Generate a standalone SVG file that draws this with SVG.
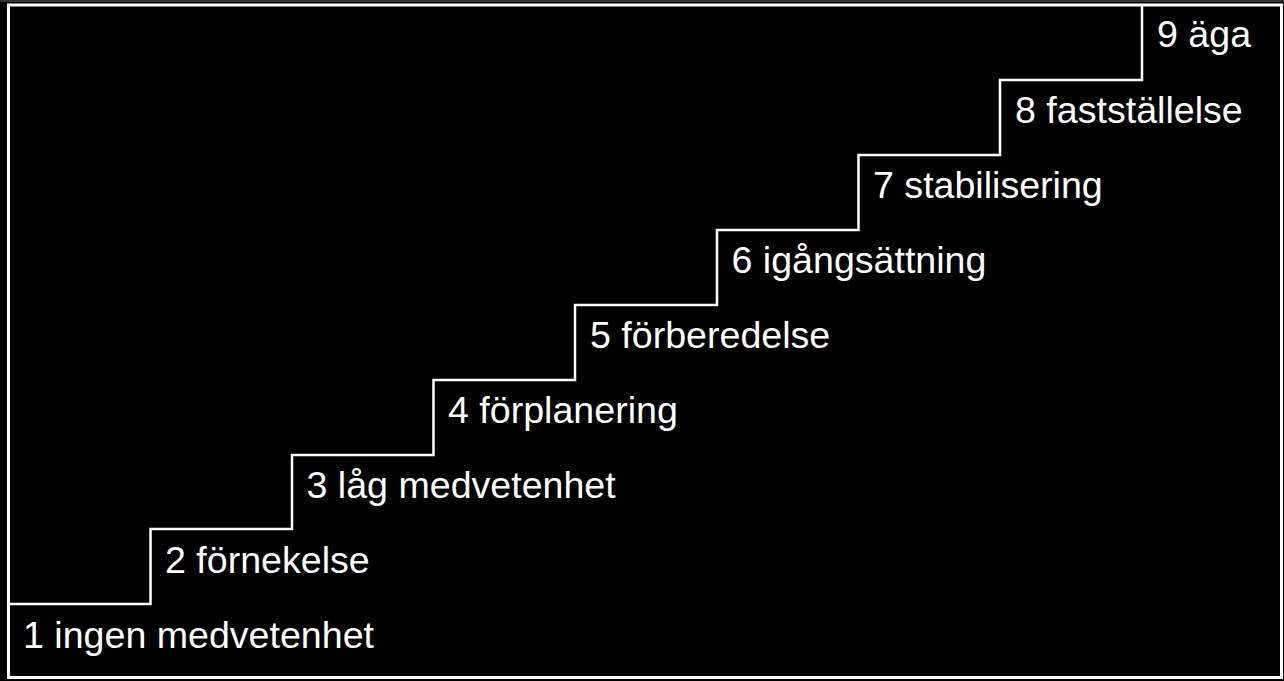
<svg xmlns="http://www.w3.org/2000/svg" width="1284" height="681" viewBox="0 0 1284 681">
<style>
.lbl{font-family:"Liberation Sans",Arial,sans-serif;font-size:37.6px;fill:#fff}
.ln{fill:none;stroke:#fff;stroke-width:2.5}
</style>
<rect x="0" y="0" width="1284" height="681" fill="#000"/>
<rect x="0" y="0" width="1284" height="2" fill="#333"/>
<rect id="frame" x="8.5" y="5" width="1273" height="672.5" fill="#000" stroke="#fff" stroke-width="3"/>
<g id="connectors">
<path class="ln" d="M10,604 H150.5 V529 H292 V455 H433.5 V380 H575 V305 H717 V230 H858.5 V155 H1000 V80 H1142 V5"/>
</g>
<g id="step1"><text class="lbl" x="23" y="648">1 ingen medvetenhet</text></g>
<g id="step2"><text class="lbl" x="165" y="573">2 förnekelse</text></g>
<g id="step3"><text class="lbl" x="306.5" y="498">3 låg medvetenhet</text></g>
<g id="step4"><text class="lbl" x="448" y="423">4 förplanering</text></g>
<g id="step5"><text class="lbl" x="590" y="348">5 förberedelse</text></g>
<g id="step6"><text class="lbl" x="731.5" y="273">6 igångsättning</text></g>
<g id="step7"><text class="lbl" x="873" y="198">7 stabilisering</text></g>
<g id="step8"><text class="lbl" x="1015" y="123">8 fastställelse</text></g>
<g id="step9"><text class="lbl" x="1157" y="47">9 äga</text></g>
</svg>
